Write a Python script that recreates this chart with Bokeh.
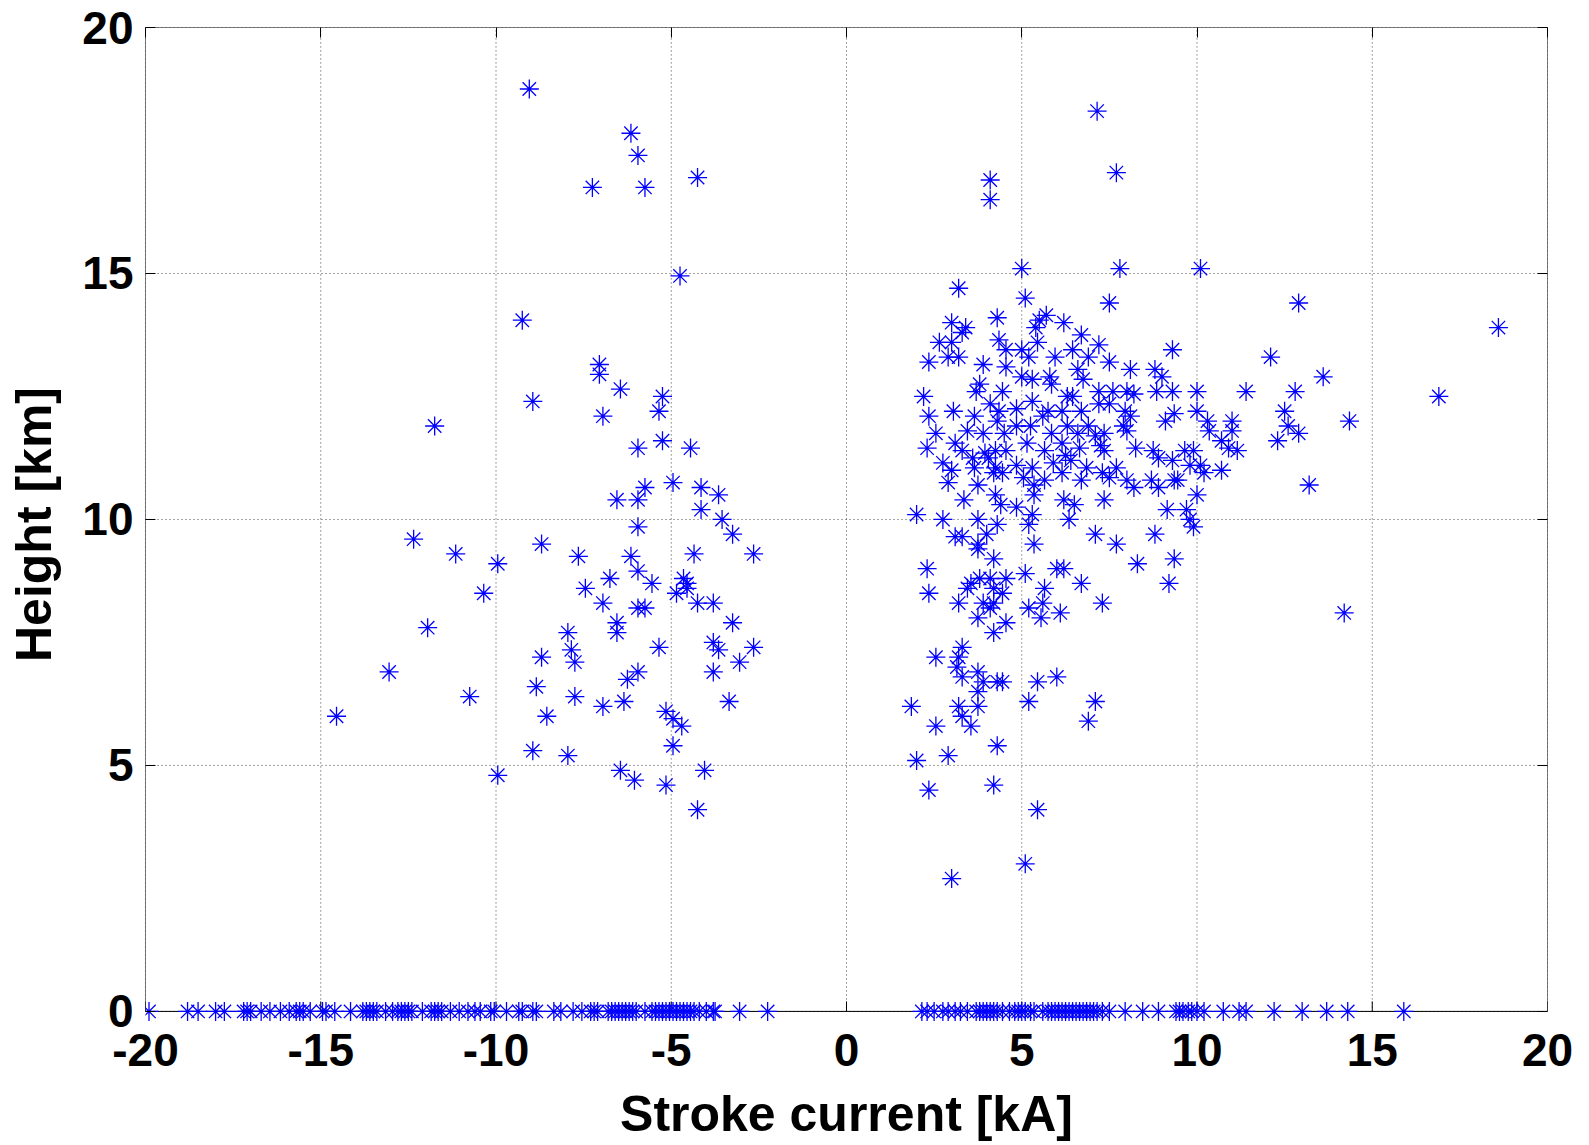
import math
from bokeh.plotting import figure
from bokeh.models import Range1d, FixedTicker, LinearAxis
from bokeh.embed import file_html
from bokeh.resources import INLINE

# Negative strokes with a height
neg_current = [-9.05, -6.15, -5.95, -7.25, -5.75, -4.25, -4.75, -9.25, -7.05, -7.05, -6.45, -5.25, -5.35,
               -8.95, -6.95, -11.75, -5.25, -5.95, -4.45, -5.75, -4.95, -4.15, -3.65, -6.55, -5.95, -4.15,
               -3.55, -5.95, -3.25, -12.35, -8.7, -11.15, -7.65, -6.15, -4.35, -2.65, -9.95, -5.95, -6.75,
               -5.55, -4.65, -4.55, -4.55, -4.85, -10.35, -7.45, -6.95, -5.95, -5.75, -4.25, -3.8, -6.55,
               -6.55, -3.25, -11.95, -7.95, -7.85, -7.75, -8.7, -5.35, -3.8, -3.65, -2.65, -3.05, -13.05,
               -5.95, -6.25, -3.8, -8.85, -10.75, -7.75, -6.95, -6.35, -3.35, -14.55, -8.55, -5.15, -4.95,
               -4.7, -4.95, -8.95, -7.95, -9.95, -6.45, -6.05, -5.15, -4.05, -4.25]
neg_height = [18.75, 17.85, 17.4, 16.75, 16.75, 16.95, 14.95, 14.05, 13.15, 12.95, 12.65, 12.5, 12.2,
              12.4, 12.1, 11.9, 11.6, 11.45, 11.45, 10.65, 10.75, 10.65, 10.5, 10.4, 10.4, 10.2,
              10.0, 9.85, 9.7, 9.6, 9.5, 9.3, 9.25, 9.25, 9.3, 9.3, 9.1, 8.95, 8.8,
              8.7, 8.8, 8.7, 8.6, 8.5, 8.5, 8.6, 8.3, 8.2, 8.2, 8.3, 8.3, 7.9,
              7.7, 7.9, 7.8, 7.7, 7.35, 7.1, 7.2, 7.4, 7.5, 7.35, 7.4, 7.1, 6.9,
              6.9, 6.75, 6.9, 6.6, 6.4, 6.4, 6.2, 6.3, 6.3, 6.0, 6.0, 6.1, 5.95,
              5.8, 5.4, 5.3, 5.2, 4.8, 4.9, 4.7, 4.6, 4.9, 4.1]

# Positive strokes with a height
pos_current = [5.0, 7.8, 3.2, 5.1, 7.5, 4.3, 3.0, 3.4, 3.3, 5.4, 5.5, 5.7, 6.2, 6.7, 2.65, 3.0, 4.35, 5.45,
               7.2, 2.9, 3.2, 2.35, 4.55, 5.0, 5.2, 5.95, 6.45, 6.9, 7.5, 9.3, 3.9, 4.55, 5.8, 6.6, 8.1,
               8.8, 9.0, 3.8, 3.7, 4.45, 5.0, 5.3, 5.85, 6.3, 6.75, 7.2, 7.6, 8.0, 8.2, 8.85, 9.3, 2.2,
               3.05, 2.35, 3.65, 4.1, 4.35, 4.85, 5.3, 5.75, 6.15, 6.45, 6.7, 7.2, 7.5, 7.95, 8.1, 9.1,
               9.35, 3.45, 2.55, 3.9, 4.3, 4.5, 4.85, 5.25, 5.6, 5.85, 6.3, 6.6, 6.9, 7.1, 7.35, 7.9,
               8.0, 2.3, 3.1, 3.3, 3.6, 3.95, 4.25, 4.55, 5.15, 5.65, 6.15, 6.25, 6.65, 7.25, 7.35, 8.25,
               8.75, 8.9, 9.3, 2.75, 3.0, 3.65, 4.05, 4.25, 4.85, 5.3, 5.9, 6.4, 6.85, 7.3, 7.5, 7.7,
               2.9, 3.75, 4.2, 4.45, 5.05, 5.35, 5.65, 6.15, 6.7, 8.0, 8.2, 8.7, 8.9, 9.35, 3.35, 4.25,
               4.4, 4.85, 5.3, 5.35, 6.2, 6.5, 7.35, 2.0, 2.75, 3.75, 6.35, 9.15,
               10.1, 12.9, 12.1, 13.6, 16.9, 11.4, 12.8, 10.0, 10.0, 10.3, 10.35, 11.0, 11.0, 10.7, 9.65,
               9.9, 10.9, 11.15, 9.8, 10.1, 10.2, 10.7, 9.45, 12.5, 12.6, 12.9, 12.3, 14.35, 13.2, 10.0,
               9.7, 9.8, 9.9,
               18.6, 14.2, 4.1, 4.1, 7.15, 7.7,
               4.3, 5.2, 3.3, 3.1, 3.75, 4.0, 7.1, 7.7, 8.8, 5.35, 3.75, 4.2, 2.3, 8.3, 9.35, 5.1, 6.0,
               6.2, 6.7, 9.2, 2.35, 3.55, 3.8, 4.1, 4.55, 3.45, 4.2, 4.45, 5.65, 3.2, 3.9, 4.2, 4.1, 5.2,
               5.6, 7.3, 6.1, 3.75, 5.55, 4.55, 4.2, 3.3, 3.2, 2.55, 3.15, 3.3, 3.75, 3.9, 4.3, 4.45,
               5.45, 6.0, 3.75, 1.85, 3.2, 3.75, 3.3, 2.55, 3.55, 5.2, 7.1, 6.9, 4.3, 2.0, 2.9, 2.35,
               4.2, 5.45, 5.1, 3.0]
pos_height = [15.1, 15.1, 14.7, 14.5, 14.4, 14.1, 14.0, 13.9, 13.8, 13.9, 14.05, 14.15, 14.0, 13.75, 13.6, 13.6, 13.65, 13.6,
              13.55, 13.3, 13.3, 13.2, 13.45, 13.45, 13.3, 13.3, 13.45, 13.3, 13.2, 13.45, 13.15, 13.1, 12.9, 13.05, 13.05,
              13.05, 12.9, 12.75, 12.6, 12.6, 12.9, 12.85, 12.75, 12.5, 12.85, 12.6, 12.6, 12.6, 12.55, 12.6, 12.6, 12.5,
              12.2, 12.1, 12.1, 12.35, 12.2, 12.25, 12.4, 12.2, 12.2, 12.5, 12.2, 12.35, 12.35, 12.2, 12.1, 12.0,
              12.15, 11.8, 11.75, 11.75, 12.0, 11.75, 11.9, 11.9, 12.1, 11.75, 11.9, 11.75, 11.9, 11.7, 11.75, 11.9,
              11.8, 11.45, 11.55, 11.4, 11.25, 11.35, 11.4, 11.4, 11.55, 11.4, 11.55, 11.3, 11.45, 11.5, 11.4, 11.45,
              11.4, 11.25, 11.2, 11.15, 11.0, 11.05, 11.25, 11.05, 11.1, 11.05, 11.15, 11.2, 11.05, 10.95, 10.85, 11.05,
              10.75, 10.7, 10.95, 10.95, 10.85, 10.7, 10.8, 10.95, 10.8, 10.8, 10.65, 10.8, 10.65, 10.8, 10.4, 10.5,
              10.3, 10.25, 10.1, 10.5, 10.4, 10.3, 10.4, 10.1, 10.0, 10.0, 10.0, 10.2,
              15.1, 14.4, 13.3, 12.9, 12.5, 12.6, 12.6, 12.6, 12.2, 12.0, 11.8, 12.0, 11.8, 11.6, 11.4,
              11.4, 11.45, 11.4, 11.1, 11.1, 10.95, 11.0, 10.8, 12.2, 11.9, 11.75, 11.6, 12.0, 10.7, 10.5,
              10.2, 10.0, 9.85,
              13.9, 8.1, 16.9, 16.5, 18.3, 17.05,
              9.9, 9.9, 9.65, 9.65, 9.5, 9.7, 9.7, 9.5, 9.7, 9.5, 9.4, 9.2, 9.0, 9.1, 9.2, 8.9, 9.0,
              9.0, 8.7, 8.7, 8.5, 8.7, 8.8, 8.8, 8.8, 8.6, 8.6, 8.5, 8.6, 8.3, 8.3, 8.3, 8.2, 8.2,
              8.3, 8.3, 8.1, 8.0, 8.0, 7.9, 7.7, 7.4, 7.2, 7.2, 7.0, 6.8, 6.9, 6.7, 6.7, 6.7,
              6.7, 6.8, 6.5, 6.2, 6.2, 6.2, 6.0, 5.8, 5.8, 6.3, 6.3, 5.9, 5.4, 5.1, 5.2, 4.5,
              4.6, 4.1, 3.0, 2.7]

# Strokes recorded without a height (plotted at 0 km)
ground_neg_current = [-19.9, -18.8, -18.5, -18.0, -17.75, -17.2, -17.1, -17.0, -16.7, -16.45, -16.15, -15.9,
                      -15.7, -15.6, -15.5, -15.3, -14.95, -14.85, -14.6, -14.15, -13.8, -13.7, -13.6, -13.5,
                      -13.4, -13.15, -12.95, -12.8, -12.7, -12.6, -12.5, -12.4, -12.1, -11.85, -11.75, -11.65,
                      -11.55, -11.3, -11.05, -10.8, -10.6, -10.45, -10.15, -10.05, -9.7, -9.35, -9.25, -8.95,
                      -8.85, -8.35, -8.15, -7.8, -7.55, -7.3, -7.2, -7.1, -6.8, -6.7, -6.6, -6.5, -6.4, -6.3,
                      -6.2, -6.1, -6.0, -5.75, -5.55, -5.45, -5.35, -5.25, -5.15, -5.05, -4.95, -4.85, -4.75,
                      -4.65, -4.55, -4.45, -4.35, -4.2, -4.0, -3.8, -3.75, -3.05, -2.25]
ground_pos_current = [2.15, 2.3, 2.5, 2.75, 2.9, 3.1, 3.25, 3.45, 3.7, 3.8, 3.9, 4.0, 4.1, 4.2, 4.3, 4.45,
                      4.65, 4.8, 4.9, 5.0, 5.1, 5.25, 5.35, 5.6, 5.75, 5.85, 5.95, 6.05, 6.15, 6.25, 6.35,
                      6.45, 6.55, 6.65, 6.75, 6.85, 6.95, 7.05, 7.15, 7.3, 7.5, 7.95, 8.45, 8.9, 9.4, 9.5,
                      9.6, 9.75, 9.85, 10.0, 10.2, 10.75, 11.2, 11.4, 12.2, 13.0, 13.7, 14.3, 15.9]
ground_height = 0.0

x_ticks = [-20, -15, -10, -5, 0, 5, 10, 15, 20]
y_ticks = [0, 5, 10, 15, 20]

xs = neg_current + pos_current + ground_neg_current + ground_pos_current
ys = neg_height + pos_height + [ground_height] * (len(ground_neg_current) + len(ground_pos_current))

x0, x1 = x_ticks[0], x_ticks[-1]
y0, y1 = y_ticks[0], y_ticks[-1]

# y range starts a little below 0 so that the markers on the 0 km line are not cut in half
p = figure(width=1589, height=1145, output_backend="svg", toolbar_location=None,
           x_range=Range1d(x0, x1), y_range=Range1d(y0 - 0.205, y1),
           min_border_left=145, min_border_right=42, min_border_top=27, min_border_bottom=124)

# dotted grid between the box edges
grid_style = dict(line_color="#444444", line_dash="1 3", line_width=1)
p.segment(x0=x_ticks, y0=[y0] * len(x_ticks), x1=x_ticks, y1=[y1] * len(x_ticks), **grid_style)
p.segment(x0=[x0] * len(y_ticks), y0=y_ticks, x1=[x1] * len(y_ticks), y1=y_ticks, **grid_style)

# box
p.segment(x0=[x0, x0, x0, x1], y0=[y0, y1, y0, y0], x1=[x1, x1, x0, x1], y1=[y0, y1, y1, y1],
          line_color="black", line_width=1)
# inward ticks on the 0 km line
p.ray(x=x_ticks, y=[y0] * len(x_ticks), length=10, length_units="screen", angle=math.pi / 2,
      line_color="black", line_width=1)

p.scatter(xs, ys, marker="asterisk", size=19, line_color="#0000ff", line_width=1.3)

FONT = "Liberation Sans"
for ax, ticks in ((p.xaxis[0], x_ticks), (p.yaxis[0], y_ticks)):
    ax.ticker = FixedTicker(ticks=ticks)
    ax.major_label_overrides = {t: str(t) for t in ticks}
    ax.axis_line_color = None
    ax.major_tick_in = 10
    ax.major_tick_out = 0
    ax.major_tick_line_color = "black"
    ax.minor_tick_line_color = None
    ax.major_label_text_font = FONT
    ax.major_label_text_font_style = "bold"
    ax.major_label_text_font_size = "46px"
    ax.major_label_text_color = "black"
    ax.axis_label_text_font = FONT
    ax.axis_label_text_font_style = "bold"
    ax.axis_label_text_font_size = "50px"
    ax.axis_label_text_color = "black"

p.xaxis[0].major_tick_line_color = None
p.xaxis[0].axis_label = "Stroke current [kA]"
p.yaxis[0].axis_label = "Height [km]"
p.xaxis[0].major_label_standoff = 12
p.xaxis[0].axis_label_standoff = 17
p.yaxis[0].major_label_standoff = 12
p.yaxis[0].axis_label_standoff = 17

for loc, ticks in (("right", y_ticks), ("above", x_ticks)):
    extra = LinearAxis(ticker=FixedTicker(ticks=ticks), major_tick_in=10, major_tick_out=0,
                       minor_tick_line_color=None, major_label_text_font_size="0px",
                       major_label_standoff=0, axis_line_color=None)
    p.add_layout(extra, loc)

p.xgrid.visible = False
p.ygrid.visible = False
p.outline_line_color = None
p.background_fill_color = "white"
p.border_fill_color = "white"

open("out.html", "w").write(file_html(p, INLINE))
